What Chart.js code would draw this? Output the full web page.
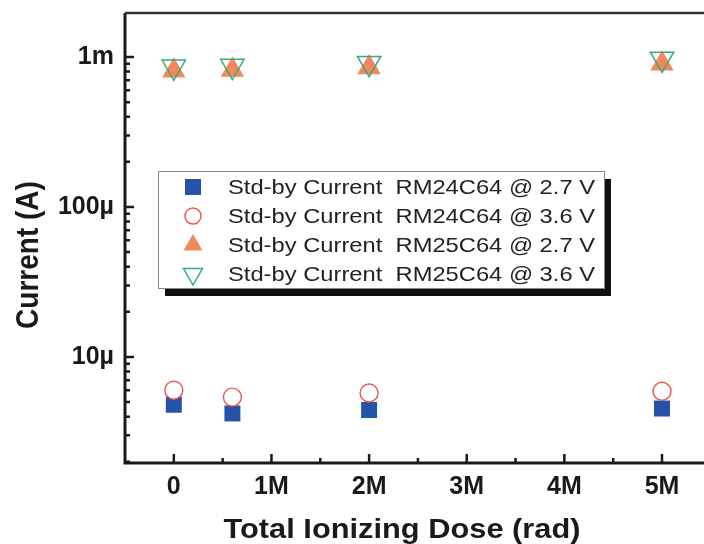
<!DOCTYPE html>
<html>
<head>
<meta charset="utf-8">
<script src="https://cdn.jsdelivr.net/npm/chart.js@4.4.1/dist/chart.umd.min.js"></script>
<style>
  body { margin: 0; background: #fff; }
</style>
</head>
<body>
<canvas id="doseChart" width="704" height="544"></canvas>
<script>
// dose points (rad) and measured standby currents (A)
const doses = [0, 0.6e6, 2e6, 5e6];
const rm24At27 = [4.8e-6, 4.2e-6, 4.43e-6, 4.53e-6];
const rm24At36 = [6.0e-6, 5.4e-6, 5.75e-6, 5.9e-6];
const rm25At27 = [0.81e-3, 0.82e-3, 0.85e-3, 0.90e-3];
const rm25At36 = [0.86e-3, 0.87e-3, 0.91e-3, 0.97e-3];

const seriesLabels = [
    'Std-by Current  RM24C64 @ 2.7 V',
    'Std-by Current  RM24C64 @ 3.6 V',
    'Std-by Current  RM25C64 @ 2.7 V',
    'Std-by Current  RM25C64 @ 3.6 V'
];

const xTicks = [0, 1e6, 2e6, 3e6, 4e6, 5e6];
const xTickLabels = ['0', '1M', '2M', '3M', '4M', '5M'];
const yTicks = [1e-5, 1e-4, 1e-3];
const yTickLabels = ['10µ', '100µ', '1m'];

const FONT = "'Liberation Sans', Arial, sans-serif";
const INK = '#1a1a1a';

function toPoints(values) {
    return doses.map((d, i) => ({ x: d, y: values[i] }));
}

// frame + inward ticks like the original plot
const frameTicks = {
    id: 'frameTicks',
    beforeDatasetsDraw(chart) {
        const { ctx, chartArea: a, scales: { x, y } } = chart;
        ctx.save();
        ctx.strokeStyle = INK;
        ctx.lineWidth = 3;
        ctx.beginPath();
        ctx.moveTo(a.left, a.top);
        ctx.lineTo(a.left, a.bottom);
        ctx.lineTo(a.right, a.bottom);
        ctx.stroke();
        ctx.strokeStyle = '#333';
        ctx.lineWidth = 2.5;
        ctx.beginPath();
        ctx.moveTo(a.left, a.top);
        ctx.lineTo(a.right, a.top);
        ctx.stroke();

        ctx.strokeStyle = INK;
        ctx.lineWidth = 2.5;
        ctx.beginPath();
        for (let v = 0; v <= 5e6; v += 0.5e6) {
            const px = x.getPixelForValue(v);
            const len = v % 1e6 === 0 ? 9 : 5;
            ctx.moveTo(px, a.bottom);
            ctx.lineTo(px, a.bottom - len);
        }
        for (let e = -6; e <= -3; e++) {
            for (let m = 1; m <= 9; m++) {
                const v = m * Math.pow(10, e);
                if (v < y.min || v > y.max) continue;
                const py = y.getPixelForValue(v);
                const len = m === 1 ? 9 : 5;
                ctx.moveTo(a.left, py);
                ctx.lineTo(a.left + len, py);
            }
        }
        ctx.stroke();
        ctx.restore();
    },
    afterDraw(chart) {
        const { ctx } = chart;
        ctx.save();
        ctx.fillStyle = INK;

        // axis titles (source image is a bit stretched horizontally)
        ctx.font = 'bold 28px ' + FONT;
        ctx.textAlign = 'center';
        ctx.textBaseline = 'alphabetic';
        ctx.save();
        ctx.translate(402, 538);
        ctx.scale(1.1, 1);
        ctx.fillText('Total Ionizing Dose (rad)', 0, 0);
        ctx.restore();

        ctx.save();
        ctx.translate(38, 255);
        ctx.rotate(-Math.PI / 2);
        ctx.scale(1, 1.1);
        ctx.fillText('Current (A)', 0, 0);
        ctx.restore();

        // legend box with drop shadow
        const box = { x: 158, y: 171, w: 446, h: 117 };
        ctx.fillStyle = '#111';
        ctx.fillRect(box.x + 7, box.y + 8, box.w, box.h);
        ctx.fillStyle = '#fff';
        ctx.fillRect(box.x, box.y, box.w, box.h);
        ctx.strokeStyle = '#888';
        ctx.lineWidth = 1;
        ctx.strokeRect(box.x + 0.5, box.y + 0.5, box.w, box.h);

        chart.data.datasets.forEach((ds, i) => {
            const cy = box.y + 16 + i * 29;
            const cx = 193;
            ctx.beginPath();
            if (ds.pointStyle === 'rect') {
                ctx.fillStyle = ds.backgroundColor;
                ctx.fillRect(cx - 8, cy - 8, 16, 16);
            } else if (ds.pointStyle === 'circle') {
                ctx.strokeStyle = ds.borderColor;
                ctx.lineWidth = ds.borderWidth;
                ctx.arc(cx, cy, 8, 0, Math.PI * 2);
                ctx.stroke();
            } else {
                const r = 11;
                const dir = ds.pointRotation === 180 ? -1 : 1;
                ctx.moveTo(cx, cy - dir * r);
                ctx.lineTo(cx + r * 0.866, cy + dir * r / 2);
                ctx.lineTo(cx - r * 0.866, cy + dir * r / 2);
                ctx.closePath();
                if (dir === 1) {
                    ctx.fillStyle = ds.backgroundColor;
                    ctx.fill();
                } else {
                    ctx.strokeStyle = ds.borderColor;
                    ctx.lineWidth = ds.borderWidth;
                    ctx.stroke();
                }
            }
            ctx.save();
            ctx.fillStyle = '#222';
            ctx.font = '21px ' + FONT;
            ctx.textAlign = 'left';
            ctx.textBaseline = 'middle';
            ctx.translate(228, cy + 1);
            ctx.scale(1.13, 1);
            ctx.fillText(ds.label, 0, 0);
            ctx.restore();
        });
        ctx.restore();
    }
};

const ctx = document.getElementById('doseChart').getContext('2d');

new Chart(ctx, {
    type: 'scatter',
    data: {
        datasets: [{
            label: seriesLabels[0],
            data: toPoints(rm24At27),
            pointStyle: 'rect',
            pointRadius: 11.3,
            backgroundColor: '#2653a8',
            borderColor: '#2653a8',
            borderWidth: 0,
            order: 3
        }, {
            label: seriesLabels[1],
            data: toPoints(rm24At36),
            pointStyle: 'circle',
            pointRadius: 9,
            backgroundColor: '#ffffff',
            borderColor: '#e8574f',
            borderWidth: 1.4,
            order: 2
        }, {
            label: seriesLabels[2],
            data: toPoints(rm25At27),
            pointStyle: 'triangle',
            pointRadius: 13.5,
            backgroundColor: '#f4875c',
            borderColor: '#f4875c',
            borderWidth: 0,
            order: 1
        }, {
            label: seriesLabels[3],
            data: toPoints(rm25At36),
            pointStyle: 'triangle',
            pointRotation: 180,
            pointRadius: 13.5,
            backgroundColor: 'rgba(0,0,0,0)',
            borderColor: '#3aaa7c',
            borderWidth: 1.5,
            order: 0
        }]
    },
    options: {
        responsive: false,
        animation: false,
        layout: { autoPadding: false, padding: { left: 0, right: 0, top: 13, bottom: 0 } },
        plugins: {
            legend: { display: false },
            tooltip: { enabled: false }
        },
        scales: {
            x: {
                type: 'linear',
                min: -0.5e6,
                max: 5.43e6,
                grid: { display: false, drawTicks: false },
                border: { display: false },
                afterBuildTicks: s => { s.ticks = xTicks.map(v => ({ value: v })); },
                afterFit: s => {
                    s.height = 81;
                    s.paddingLeft = 0;
                    s.paddingRight = 0;
                },
                ticks: {
                    padding: 9,
                    color: INK,
                    autoSkip: false,
                    maxRotation: 0,
                    font: { family: FONT, size: 25, weight: 'bold' },
                    callback: (v, i) => xTickLabels[i]
                }
            },
            y: {
                type: 'logarithmic',
                min: 1.963e-6,
                max: 1.965e-3,
                grid: { display: false, drawTicks: false },
                border: { display: false },
                afterBuildTicks: s => { s.ticks = yTicks.map(v => ({ value: v })); },
                afterFit: s => {
                    s.width = 125;
                    s.paddingTop = 0;
                    s.paddingBottom = 0;
                },
                ticks: {
                    padding: 11,
                    color: INK,
                    autoSkip: false,
                    font: { family: FONT, size: 25, weight: 'bold' },
                    callback: (v, i) => yTickLabels[i]
                }
            }
        }
    },
    plugins: [frameTicks]
});
</script>
</body>
</html>
